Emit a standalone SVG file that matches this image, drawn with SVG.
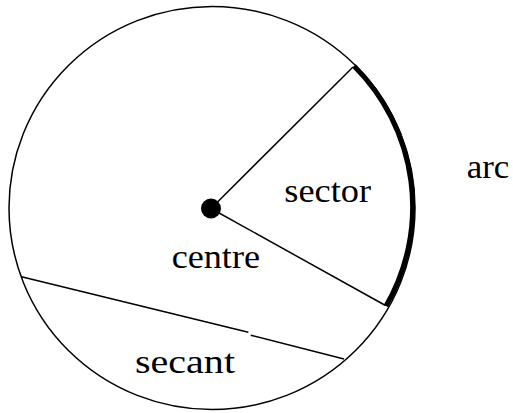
<svg xmlns="http://www.w3.org/2000/svg" width="513" height="413" viewBox="0 0 513 413">
<style>
.ln{fill:none;stroke:#000;stroke-width:1.5}
.thick{fill:none;stroke:#000;stroke-width:5}
text{font-family:"Liberation Serif","Times New Roman",serif;font-size:33px;fill:#000}
</style>
<rect width="513" height="413" fill="#fff"/>
<g id="circle">
<ellipse cx="212" cy="208" rx="203" ry="201.5" class="ln"/>
</g>
<g id="connectors">
<line x1="211" y1="208.5" x2="353" y2="67" class="ln"/>
<line x1="211" y1="208.5" x2="385.5" y2="305.5" class="ln"/>
<line x1="21.5" y1="276.7" x2="248.3" y2="332.3" class="ln"/>
<line x1="250.7" y1="335.2" x2="344" y2="359" class="ln"/>
<path d="M354 66 A201 199.5 0 0 1 386 306" class="thick"/>
</g>
<g id="centre-dot"><circle cx="211" cy="208.5" r="10" fill="#000"/></g>
<g id="labels">
<text x="284.3" y="202.3" textLength="86.7" lengthAdjust="spacingAndGlyphs">sector</text>
<text x="171.7" y="267.7" textLength="88.3" lengthAdjust="spacingAndGlyphs">centre</text>
<text x="135" y="372.7" textLength="100" lengthAdjust="spacingAndGlyphs">secant</text>
<text x="466.7" y="177.7" textLength="42.6" lengthAdjust="spacingAndGlyphs">arc</text>
</g>
</svg>
